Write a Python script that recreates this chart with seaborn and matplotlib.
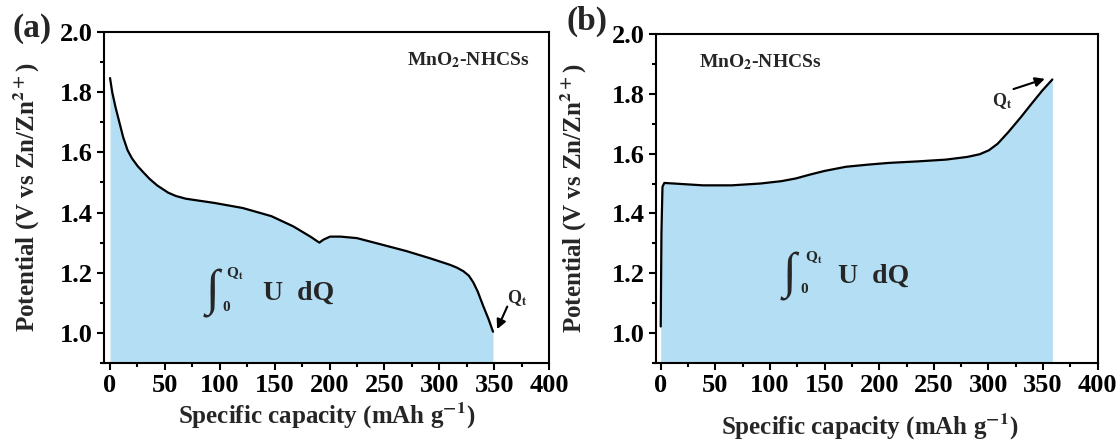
import matplotlib
matplotlib.use("Agg")
import matplotlib.pyplot as plt
from matplotlib.ticker import AutoMinorLocator
import seaborn as sns
import pandas as pd

# ---------------- data ----------------
cap_a = [0, 2, 5, 8.5, 12, 16, 20, 25, 30, 36, 43, 53, 60, 69, 95, 121, 147, 167, 183,
         190.7, 194.5, 200.5, 210, 225, 246, 270, 291.6, 300, 310, 316, 322, 327,
         331, 335, 340, 345, 349]
volt_a = [1.847, 1.80, 1.75, 1.70, 1.65, 1.607, 1.58, 1.555, 1.535, 1.512, 1.49, 1.466,
          1.455, 1.446, 1.432, 1.415, 1.388, 1.354, 1.319, 1.300, 1.310, 1.320, 1.320,
          1.315, 1.295, 1.272, 1.248, 1.238, 1.226, 1.217, 1.205, 1.19, 1.168, 1.138,
          1.09, 1.045, 1.004]

cap_b = [0, 0.65, 1.6, 3.3, 12.4, 38.6, 64.8, 91, 110.5, 123.6, 136.7, 149.8, 169.4,
         189, 208.7, 234.8, 261, 280.6, 292, 300.3, 308.4, 318.2, 329.7, 339.5, 349.3, 358.5]
volt_b = [1.022, 1.333, 1.489, 1.502, 1.500, 1.494, 1.494, 1.500, 1.508, 1.517, 1.530,
          1.542, 1.556, 1.563, 1.569, 1.574, 1.580, 1.589, 1.598, 1.611, 1.633, 1.672,
          1.722, 1.767, 1.811, 1.848]

panel_labels = ["(a)", "(b)"]
sample_label = "MnO$_\\mathbf{2}$-NHCSs"
xlabel = "Specific capacity (mAh g$^{\\mathbf{-1}}$)"
ylabel = "Potential (V vs Zn/Zn$^{\\mathbf{2+}}$)"
xticks = [0, 50, 100, 150, 200, 250, 300, 350, 400]
yticks = [1.0, 1.2, 1.4, 1.6, 1.8, 2.0]

fill_color = "#b4def4"

# ---------------- style ----------------
sns.set_theme(style="ticks")
plt.rcParams["font.family"] = ["Liberation Serif", "DejaVu Serif"]
plt.rcParams["font.weight"] = "bold"
plt.rcParams["axes.labelweight"] = "bold"
plt.rcParams["mathtext.fontset"] = "stix"
plt.rcParams["mathtext.default"] = "bf"
plt.rcParams["axes.edgecolor"] = "black"
plt.rcParams["axes.linewidth"] = 1.5
plt.rcParams["xtick.color"] = "black"
plt.rcParams["ytick.color"] = "black"

fig = plt.figure(figsize=(11.2, 4.41), dpi=100)
ax_a = fig.add_axes([104 / 1120, 1 - 363 / 441, 445 / 1120, 331 / 441])
ax_b = fig.add_axes([655.7 / 1120, 1 - 363 / 441, 442 / 1120, 329 / 441])

df_a = pd.DataFrame({"cap": cap_a, "volt": volt_a})
df_b = pd.DataFrame({"cap": cap_b, "volt": volt_b})

for ax, df, xl in ((ax_a, df_a, -5.5), (ax_b, df_b, -4.6)):
    ax.fill_between(df["cap"], df["volt"], 0.9, color=fill_color, lw=0, zorder=1)
    sns.lineplot(data=df, x="cap", y="volt", ax=ax, color="black", lw=1.6,
                 sort=False, estimator=None, zorder=3)
    ax.set_xlim(xl, 400)
    ax.set_ylim(0.9, 2.0)
    ax.set_xticks(xticks)
    ax.set_yticks(yticks)
    ax.xaxis.set_minor_locator(AutoMinorLocator(2))
    ax.yaxis.set_minor_locator(AutoMinorLocator(2))
    ax.tick_params(axis="both", which="major", direction="out", length=5, width=1.5,
                   labelsize=19, top=False, right=False)
    ax.tick_params(axis="both", which="minor", direction="out", length=3, width=1.5,
                   top=False, right=False)
    ax.tick_params(axis="x", which="major", pad=3)
    ax.tick_params(axis="y", which="major", pad=3)
    ax.set_xlabel(xlabel, fontsize=18)
    ax.set_ylabel(ylabel, fontsize=18)
    for s in ax.spines.values():
        s.set_linewidth(1.5)
        s.set_color("black")
        s.set_zorder(5)

ax_a.xaxis.set_label_coords(0.5, -0.115)
ax_b.xaxis.set_label_coords(0.483, -0.147)
ax_a.yaxis.set_label_coords(-0.14, 0.5)
ax_b.yaxis.set_label_coords(-0.152, 0.5)

# sample labels
ax_a.text(326, 1.905, sample_label, fontsize=14, ha="center", va="center")
ax_b.text(91, 1.905, sample_label, fontsize=14, ha="center", va="center")

# integral annotations
def integral(ax, xs, ys, xq, yq, x0, y0, xu, yu):
    ax.text(xs, ys, "\u222b", fontsize=36, ha="center", va="center", zorder=4,
            family=["Liberation Serif", "DejaVu Serif"])
    ax.text(xq, yq, r"Q$_\mathbf{t}$", fontsize=11, ha="center", va="center", zorder=4)
    ax.text(x0, y0, "0", fontsize=11, ha="center", va="center", zorder=4)
    ax.text(xu, yu, "U  dQ", fontsize=20, ha="center", va="center", zorder=4)

integral(ax_a, 93, 1.13, 114, 1.195, 106, 1.085, 171.5, 1.133)
integral(ax_b, 118, 1.19, 140, 1.25, 131, 1.145, 194.8, 1.189)

# Q_t arrows
ax_a.text(371, 1.115, r"Q$_\mathbf{t}$", fontsize=13, ha="center", va="center")
ax_a.annotate("", xy=(351.7, 1.004), xytext=(363, 1.096),
              arrowprops=dict(arrowstyle="-|>", color="black", lw=1.5, mutation_scale=14))
ax_b.text(313, 1.775, r"Q$_\mathbf{t}$", fontsize=13, ha="center", va="center")
ax_b.annotate("", xy=(354, 1.853), xytext=(320.5, 1.813),
              arrowprops=dict(arrowstyle="-|>", color="black", lw=1.5, mutation_scale=14))

# panel labels
fig.text(32 / 1120, 1 - 28 / 441, panel_labels[0], fontsize=24, ha="center", va="center")
fig.text(587 / 1120, 1 - 21.5 / 441, panel_labels[1], fontsize=24, ha="center", va="center")

fig.savefig("out.png", dpi=100)
